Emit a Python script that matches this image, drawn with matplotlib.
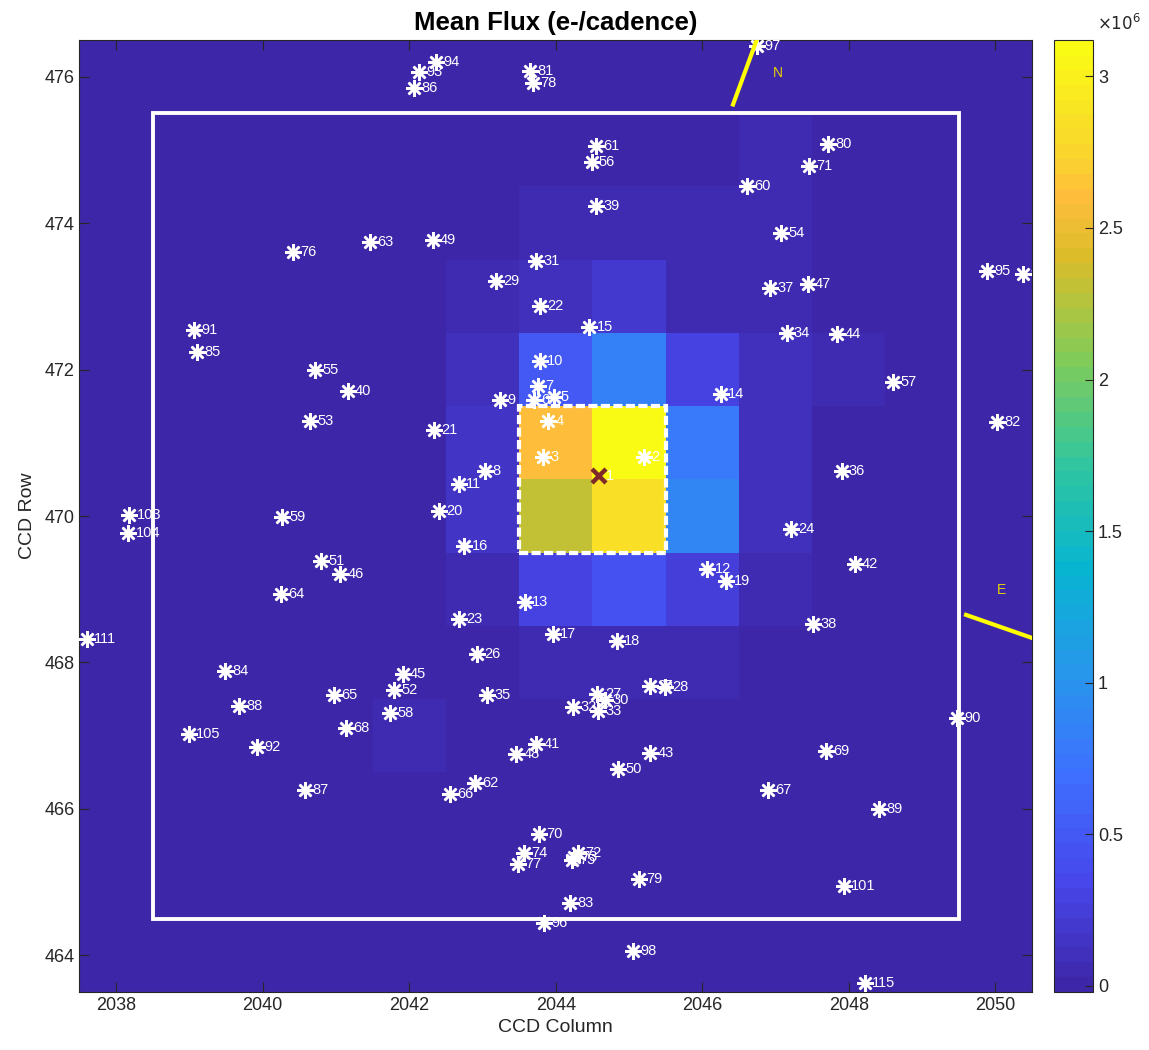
import numpy as np
import matplotlib as mpl
mpl.use('Agg')
import matplotlib.pyplot as plt
from matplotlib.colors import LinearSegmentedColormap, Normalize
from matplotlib.patches import Rectangle
from matplotlib.ticker import FuncFormatter

NARROW = ['Liberation Sans Narrow', 'Liberation Sans', 'DejaVu Sans']

# pixel grid of the target pixel file (columns 2039..2049, rows 475 down to 465)
cols = list(range(2039, 2050))
rows = list(range(475, 464, -1))
# mean flux, units of 1e6 e-/cadence, one list per row (top row first)
flux = [
    [0, 0, 0, 0, 0, 0, 0, 0, 0.05, 0, 0],
    [0, 0, 0, 0, 0, 0.05, 0.05, 0.05, 0.05, 0, 0],
    [0, 0, 0, 0, 0.05, 0.10, 0.20, 0.07, 0.05, 0, 0],
    [0, 0, 0, 0, 0.10, 0.50, 0.84, 0.30, 0.12, 0.05, 0],
    [0, 0, 0, 0, 0.15, 2.62, 3.10, 0.80, 0.10, 0, 0],
    [0, 0, 0, 0, 0.14, 2.32, 2.84, 0.88, 0.10, 0, 0],
    [0, 0, 0, 0, 0.05, 0.30, 0.47, 0.25, 0.05, 0, 0],
    [0, 0, 0, 0, 0, 0.05, 0.05, 0.05, 0, 0, 0],
    [0, 0, 0, 0.05, 0, 0, 0, 0, 0, 0, 0],
    [0, 0, 0, 0, 0, 0, 0, 0, 0, 0, 0],
    [0, 0, 0, 0, 0, 0, 0, 0, 0, 0, 0],
]
flux_min, flux_max = -0.02e6, 3.12e6

# nearby stars: id, column, row
star_id = [2, 3, 4, 5, 6, 7, 8, 9, 10, 11, 12, 13, 14, 15, 16, 17, 18, 19, 20,
           21, 22, 23, 24, 25, 26, 27, 28, 29, 30, 31, 32, 33, 34, 35, 36, 37,
           38, 39, 40, 41, 42, 43, 44, 45, 46, 47, 48, 49, 50, 51, 52, 53, 54,
           55, 56, 57, 58, 59, 60, 61, 62, 63, 64, 65, 66, 67, 68, 69, 70, 71,
           72, 73, 74, 75, 76, 77, 78, 79, 80, 81, 82, 83, 84, 85, 86, 87, 88,
           89, 90, 91, 92, 93, 94, 95, 96, 97, 98, 99, 101, 103, 104, 105, 111,
           115]
star_col = [2045.20, 2043.83, 2043.90, 2043.97, 2043.70, 2043.76, 2043.03,
            2043.24, 2043.78, 2042.68, 2046.07, 2043.58, 2046.25, 2044.46,
            2042.75, 2043.96, 2044.83, 2046.33, 2042.41, 2042.34, 2043.79,
            2042.68, 2047.21, 2045.29, 2042.93, 2044.57, 2045.49, 2043.18,
            2044.67, 2043.73, 2044.24, 2044.58, 2047.15, 2043.06, 2047.90,
            2046.92, 2047.51, 2044.55, 2041.16, 2043.73, 2048.08, 2045.29,
            2047.84, 2041.91, 2041.06, 2047.44, 2043.46, 2042.32, 2044.85,
            2040.80, 2041.80, 2040.65, 2047.08, 2040.72, 2044.49, 2048.60,
            2041.74, 2040.27, 2046.61, 2044.55, 2042.90, 2041.47, 2040.25,
            2040.97, 2042.56, 2046.90, 2041.14, 2047.69, 2043.77, 2047.46,
            2044.30, 2044.25, 2043.57, 2044.22, 2040.42, 2043.49, 2043.69,
            2045.14, 2047.71, 2043.65, 2050.02, 2044.20, 2039.49, 2039.10,
            2042.07, 2040.58, 2039.68, 2048.41, 2049.47, 2039.07, 2039.93,
            2042.13, 2042.37, 2049.89, 2043.84, 2046.75, 2045.06, 2050.38,
            2047.93, 2038.18, 2038.17, 2038.99, 2037.60, 2048.22]
star_row = [470.80, 470.81, 471.30, 471.63, 471.59, 471.78, 470.62, 471.59,
            472.11, 470.44, 469.28, 468.82, 471.66, 472.58, 469.59, 468.39,
            468.29, 469.11, 470.07, 471.17, 472.87, 468.60, 469.82, 467.68,
            468.11, 467.57, 467.66, 473.21, 467.49, 473.48, 467.39, 467.34,
            472.50, 467.56, 470.61, 473.11, 468.53, 474.23, 471.71, 466.89,
            469.35, 466.77, 472.49, 467.84, 469.21, 473.17, 466.75, 473.77,
            466.54, 469.39, 467.63, 471.30, 473.86, 472.00, 474.83, 471.83,
            467.31, 469.99, 474.51, 475.05, 466.35, 473.74, 468.94, 467.55,
            466.20, 466.26, 467.11, 466.79, 465.66, 474.78, 465.40, 465.35,
            465.40, 465.30, 473.60, 465.25, 475.91, 465.04, 475.08, 476.08,
            471.28, 464.71, 467.89, 472.24, 475.84, 466.26, 467.40, 466.00,
            467.24, 472.54, 466.85, 476.06, 476.20, 473.34, 464.44, 476.42,
            464.06, 473.30, 464.95, 470.01, 469.77, 467.02, 468.32, 463.62]

target_col, target_row = 2044.59, 470.54

# parula-like colormap, 64 steps
parula_pts = [(0.2422, 0.1504, 0.6603), (0.2803, 0.2782, 0.9221),
              (0.2440, 0.4358, 0.9988), (0.1540, 0.5902, 0.9218),
              (0.0297, 0.7082, 0.8163), (0.1938, 0.7758, 0.6251),
              (0.5044, 0.7993, 0.3480), (0.8634, 0.7406, 0.1596),
              (0.9956, 0.7434, 0.2371), (0.9786, 0.8386, 0.1766),
              (0.9769, 0.9839, 0.0805)]
parula_pos = [0, 7/63, 14/63, 21/63, 28/63, 35/63, 42/63, 49/63, 53/63, 56/63, 1]
parula = LinearSegmentedColormap.from_list('parula', list(zip(parula_pos, parula_pts)), N=64)

fig = plt.figure(figsize=(11.49, 10.5), dpi=100)
ax = fig.add_axes([0.0691, 0.0552, 0.8291, 0.9067])
ax.set_facecolor(parula(0))

norm = Normalize(vmin=flux_min, vmax=flux_max)
x_edges = np.array(cols + [cols[-1] + 1]) - 0.5
y_edges = np.array(rows[::-1] + [rows[0] + 1]) - 0.5
mesh = ax.pcolormesh(x_edges, y_edges, np.array(flux)[::-1] * 1e6,
                     cmap=parula, norm=norm, zorder=1)

# stars
ax.plot(star_col, star_row, linestyle='none', marker=(8, 2, 0), ms=12,
        mew=1.8, color='white', zorder=4)
for sid, sx, sy in zip(star_id, star_col, star_row):
    ax.text(sx + 0.1, sy, str(sid), color='white', fontsize=10.5,
            family=NARROW, va='center', ha='left', clip_on=True, zorder=4)

ax.plot(target_col, target_row, marker='x', ms=10, mew=3.2,
        color='#7f2a2a', zorder=5)
ax.text(target_col + 0.1, target_row, '1', color='white', fontsize=10.5,
        family=NARROW, va='center', ha='left', zorder=5)

# target pixel file outline and aperture
ax.add_patch(Rectangle((2038.5, 464.5), 11, 11, fill=False, ec='white',
                       lw=2.8, zorder=6))
aper = Rectangle((2043.5, 469.5), 2, 2, fill=False, ec='white', lw=3, zorder=6)
aper.set_linestyle((0, (2.2, 0.8)))
ax.add_patch(aper)

# compass
ax.plot([2046.42, 2046.86], [475.62, 476.82], color='yellow', lw=3, zorder=7)
ax.plot([2049.60, 2050.80], [468.65, 468.23], color='yellow', lw=3, zorder=7)
ax.text(2047.03, 476.05, 'N', color='#e6d200', fontsize=10, family=NARROW,
        ha='center', va='center', zorder=7)
ax.text(2050.09, 468.99, 'E', color='#e6d200', fontsize=10, family=NARROW,
        ha='center', va='center', zorder=7)

ax.set_xlim(2037.5, 2050.5)
ax.set_ylim(463.5, 476.5)
ax.set_xticks(range(2038, 2051, 2))
ax.set_yticks(range(464, 477, 2))
ax.tick_params(direction='in', top=True, right=True, length=7, width=0.8,
               colors='#262626', labelsize=13)
for lab in ax.get_xticklabels() + ax.get_yticklabels():
    lab.set_family(NARROW)
for sp in ax.spines.values():
    sp.set_color('#262626')
    sp.set_linewidth(0.8)

ax.set_xlabel('CCD Column', fontsize=14, family=NARROW, color='#262626', labelpad=4)
ax.set_ylabel('CCD Row', fontsize=14, family=NARROW, color='#262626', labelpad=6)
ax.set_title('Mean Flux (e-/cadence)', fontsize=18.5, fontweight='bold',
             family=['Liberation Sans', 'DejaVu Sans'], pad=7)

cax = fig.add_axes([0.9173, 0.0552, 0.034, 0.9067])
cb = fig.colorbar(mesh, cax=cax)
cb.set_ticks([0, 0.5e6, 1e6, 1.5e6, 2e6, 2.5e6, 3e6])
cb.ax.yaxis.set_major_formatter(FuncFormatter(lambda v, p: f'{v / 1e6:g}'))
cb.ax.tick_params(direction='in', length=6, width=0.8, colors='#262626', labelsize=13)
for lab in cb.ax.get_yticklabels():
    lab.set_family(NARROW)
cb.outline.set_edgecolor('#262626')
cb.outline.set_linewidth(0.8)
cax.text(1.1, 1.006, r'$\times10^{6}$', transform=cax.transAxes, fontsize=12,
         ha='left', va='bottom', color='#262626')

fig.savefig('out.png', dpi=100)
